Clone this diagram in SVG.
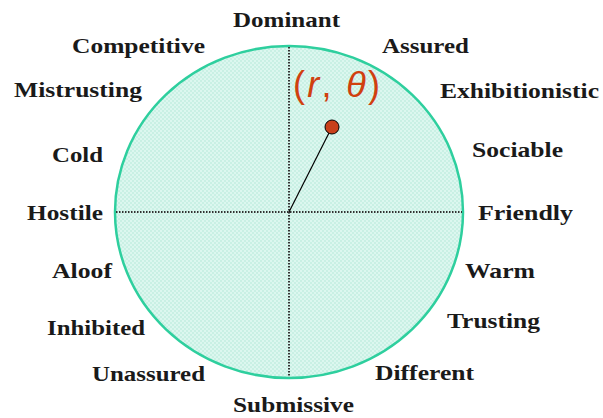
<svg xmlns="http://www.w3.org/2000/svg" width="603" height="418" viewBox="0 0 603 418">
<style>
.lbl{font-family:"Liberation Serif","Times New Roman",serif;font-weight:bold;font-size:21px;fill:#1a1a1a}
.axis{stroke:#333;stroke-width:2;stroke-dasharray:1.5 1.5;fill:none}
</style>
<defs>
<pattern id="dots" width="4" height="4" patternUnits="userSpaceOnUse">
<rect width="4" height="4" fill="#dcf7ef"/>
<rect x="0" y="0" width="2" height="2" fill="#c9f0e4"/>
<rect x="2" y="2" width="2" height="2" fill="#c9f0e4"/>
</pattern>
</defs>
<g id="circle">
<ellipse cx="289" cy="212" rx="174" ry="166" fill="url(#dots)" stroke="#2ecf9e" stroke-width="2.5"/>
</g>
<g id="connectors">
<line class="axis" x1="289" y1="47" x2="289" y2="377"/>
<line class="axis" x1="116" y1="212" x2="462" y2="212"/>
<line x1="289" y1="212" x2="332" y2="127" stroke="#000" stroke-width="1.2"/>
</g>
<g id="point">
<circle cx="332" cy="127" r="7" fill="#c8401a" stroke="#000" stroke-width="1"/>
<text x="293" y="97" font-family="Liberation Sans, Arial, sans-serif" font-size="36" fill="#d0400f" textLength="87" lengthAdjust="spacing">(<tspan font-style="italic">r</tspan>, <tspan font-style="italic">θ</tspan>)</text>
</g>
<g id="labels">
<text class="lbl" x="233" y="27" textLength="107" lengthAdjust="spacingAndGlyphs">Dominant</text>
<text class="lbl" x="72" y="53" textLength="133" lengthAdjust="spacingAndGlyphs">Competitive</text>
<text class="lbl" x="382" y="53" textLength="87" lengthAdjust="spacingAndGlyphs">Assured</text>
<text class="lbl" x="14" y="97" textLength="128" lengthAdjust="spacingAndGlyphs">Mistrusting</text>
<text class="lbl" x="440" y="98" textLength="159" lengthAdjust="spacingAndGlyphs">Exhibitionistic</text>
<text class="lbl" x="52" y="162" textLength="51" lengthAdjust="spacingAndGlyphs">Cold</text>
<text class="lbl" x="472" y="157" textLength="91" lengthAdjust="spacingAndGlyphs">Sociable</text>
<text class="lbl" x="27" y="220" textLength="76" lengthAdjust="spacingAndGlyphs">Hostile</text>
<text class="lbl" x="478" y="220" textLength="95" lengthAdjust="spacingAndGlyphs">Friendly</text>
<text class="lbl" x="52" y="278" textLength="60" lengthAdjust="spacingAndGlyphs">Aloof</text>
<text class="lbl" x="465" y="278" textLength="70" lengthAdjust="spacingAndGlyphs">Warm</text>
<text class="lbl" x="47" y="335" textLength="98" lengthAdjust="spacingAndGlyphs">Inhibited</text>
<text class="lbl" x="447" y="328" textLength="93" lengthAdjust="spacingAndGlyphs">Trusting</text>
<text class="lbl" x="92" y="381" textLength="113" lengthAdjust="spacingAndGlyphs">Unassured</text>
<text class="lbl" x="375" y="380" textLength="99" lengthAdjust="spacingAndGlyphs">Different</text>
<text class="lbl" x="233" y="412" textLength="121" lengthAdjust="spacingAndGlyphs">Submissive</text>
</g>
</svg>
